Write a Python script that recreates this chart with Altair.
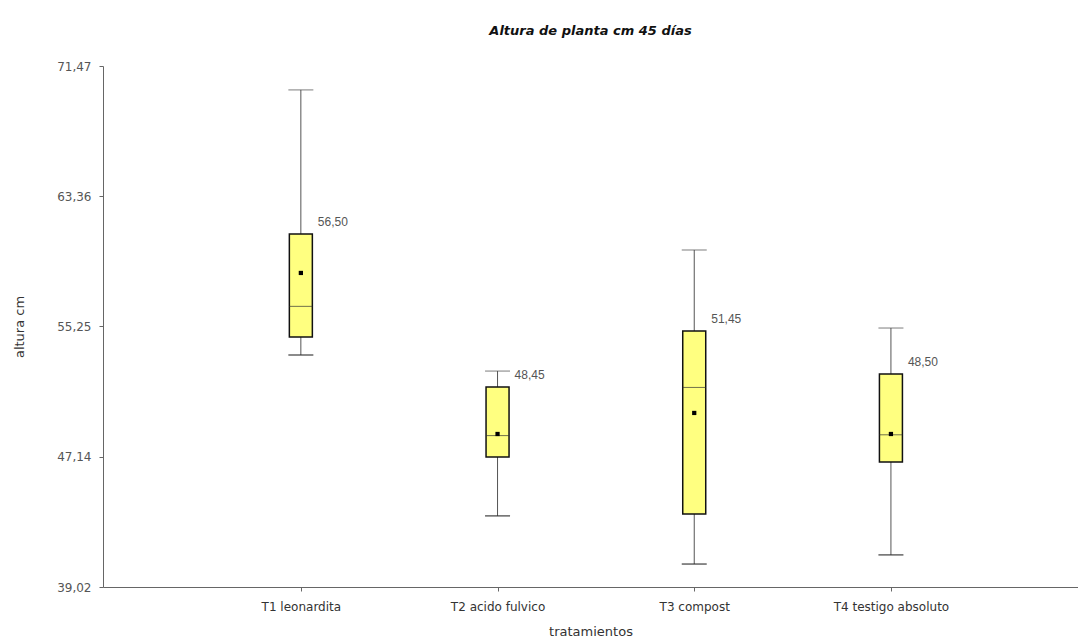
import altair as alt
import pandas as pd

treatments = ["T1 leonardita", "T2 acido fulvico", "T3 compost", "T4 testigo absoluto"]
whisker_low = [53.47, 43.45, 40.45, 41.02]
q1 = [54.59, 47.12, 43.57, 46.81]
median = [56.50, 48.45, 51.45, 48.50]
mean = [58.58, 48.55, 49.86, 48.55]
q3 = [61.01, 51.48, 54.97, 52.29]
whisker_high = [69.98, 52.47, 60.01, 55.15]
median_labels = ["56,50", "48,45", "51,45", "48,50"]
y_ticks = [39.02, 47.14, 55.25, 63.36, 71.47]

df = pd.DataFrame({
    "trat": treatments,
    "lo": whisker_low,
    "q1": q1,
    "med": median,
    "mean": mean,
    "q3": q3,
    "hi": whisker_high,
    "lab": median_labels,
})

FONT = "Liberation Sans"
AXFONT = "DejaVu Sans"

x = alt.X("trat:N", sort=treatments,
          scale=alt.Scale(type="point", padding=0.9785, align=0.514),
          axis=alt.Axis(title="tratamientos", labelAngle=0, labelFontSize=12,
                        labelFont=AXFONT, titleFont=AXFONT,
                        labelColor="#333", titleFontSize=13, titleFontWeight="normal",
                        titleColor="#333", domainColor="#666", tickColor="#666",
                        tickSize=4, labelPadding=10, titlePadding=13, grid=False))

yscale = alt.Scale(domain=[39.02, 71.47], nice=False, zero=False)
yaxis = alt.Axis(title="altura cm", values=y_ticks,
                 labelExpr="replace(format(datum.value, '.2f'), '.', ',')",
                 labelFont=AXFONT, titleFont=AXFONT,
                 labelFontSize=12, labelColor="#555", titleFontSize=13,
                 titleFontWeight="normal", titleColor="#333", domainColor="#666",
                 tickColor="#666", tickSize=4, labelPadding=8, titlePadding=30,
                 grid=False)

base = alt.Chart(df)

whisker = base.mark_rule(color="#555", strokeWidth=1).encode(
    x=x, y=alt.Y("lo:Q", scale=yscale, axis=yaxis), y2="hi:Q")

cap_hi = base.mark_tick(color="#444", size=25, thickness=1).encode(
    x=x, y=alt.Y("hi:Q", scale=yscale))
cap_lo = base.mark_tick(color="#222", size=25, thickness=1.5).encode(
    x=x, y=alt.Y("lo:Q", scale=yscale))

box = base.mark_bar(size=23, fill="#ffff80", stroke="#111", strokeWidth=1.5).encode(
    x=x, y=alt.Y("q1:Q", scale=yscale), y2="q3:Q")

med = base.mark_tick(color="#333", size=23, thickness=1).encode(
    x=x, y=alt.Y("med:Q", scale=yscale))

mean_pt = base.mark_square(color="#000", size=18, opacity=1).encode(
    x=x, y=alt.Y("mean:Q", scale=yscale))

labels = base.mark_text(align="left", baseline="middle", dx=17, dy=-12,
                        fontSize=12, color="#555", font=FONT).encode(
    x=x, y=alt.Y("q3:Q", scale=yscale), text="lab:N")

chart = alt.layer(whisker, cap_hi, cap_lo, box, med, mean_pt, labels).properties(
    width=975, height=521,
    title=alt.TitleParams("Altura de planta cm 45 días", fontSize=13,
                          fontStyle="italic", fontWeight="bold", color="#111",
                          font=AXFONT, offset=22, anchor="middle"),
    autosize=alt.AutoSizeParams(type="none"),
    padding={"left": 95, "top": 58, "right": 0, "bottom": 52},
).configure(font=FONT).configure_view(stroke=None)

chart.save("out.html", embed_options={"renderer": "svg", "actions": False})
